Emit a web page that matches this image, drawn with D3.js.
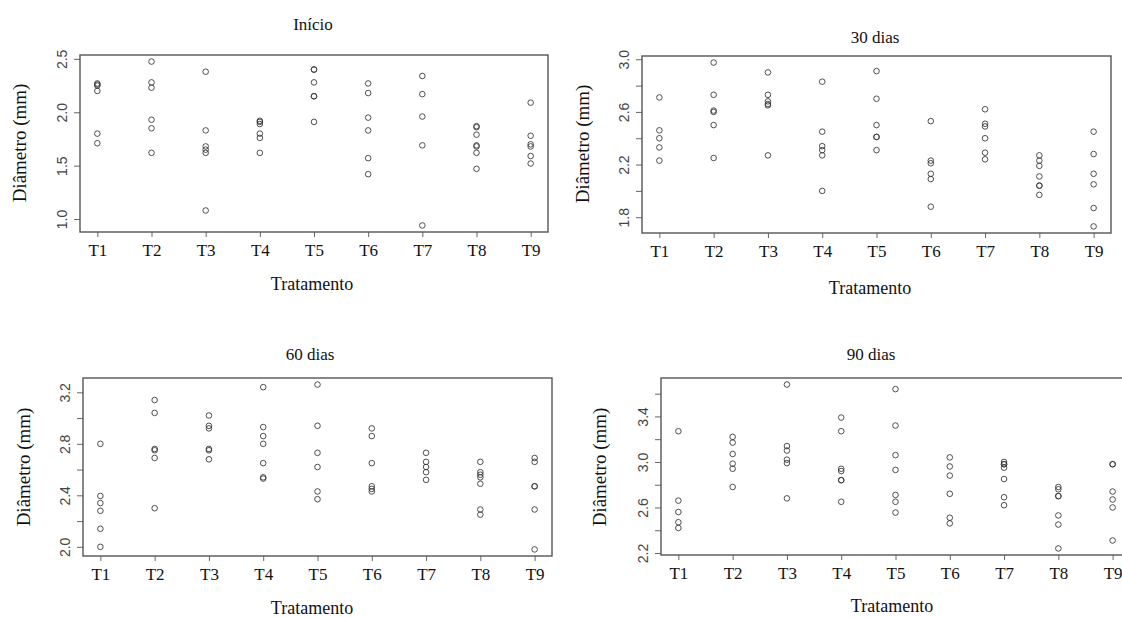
<!DOCTYPE html>
<html>
<head>
<meta charset="utf-8">
<script src="https://cdn.jsdelivr.net/npm/d3@7"></script>
<style>
  body { margin: 0; background: #fff; }
  svg text { font-family: "Liberation Serif", "Times New Roman", serif; fill: #111; }
  .ytick text { font-family: "Liberation Sans", Arial, sans-serif; fill: #444; }
</style>
</head>
<body>
<svg id="chart" width="1122" height="617"></svg>
<script>
// treatments on the x axis
var tratamentos = ["T1", "T2", "T3", "T4", "T5", "T6", "T7", "T8", "T9"];

// diameter (mm) per treatment
var inicio = [
    [2.27, 2.26, 2.25, 2.20, 1.80, 1.71],
    [2.475, 2.28, 2.23, 1.93, 1.85, 1.62],
    [2.38, 1.83, 1.68, 1.65, 1.62, 1.08],
    [1.92, 1.91, 1.89, 1.80, 1.76, 1.62],
    [2.40, 2.40, 2.28, 2.15, 2.15, 1.91],
    [2.27, 2.18, 1.95, 1.83, 1.57, 1.42],
    [2.34, 2.17, 1.96, 1.69, 0.94],
    [1.87, 1.86, 1.79, 1.69, 1.68, 1.62, 1.47],
    [2.09, 1.78, 1.70, 1.68, 1.59, 1.52]
];
var dias30 = [
    [2.71, 2.46, 2.40, 2.33, 2.23],
    [2.975, 2.73, 2.61, 2.60, 2.50, 2.25],
    [2.90, 2.73, 2.68, 2.66, 2.65, 2.27],
    [2.83, 2.45, 2.34, 2.31, 2.27, 2.00],
    [2.91, 2.70, 2.50, 2.41, 2.41, 2.31],
    [2.53, 2.23, 2.21, 2.13, 2.09, 1.88],
    [2.62, 2.51, 2.49, 2.40, 2.29, 2.24],
    [2.27, 2.23, 2.19, 2.11, 2.04, 2.04, 1.97],
    [2.45, 2.28, 2.13, 2.05, 1.87, 1.73]
];
var dias60 = [
    [2.80, 2.395, 2.34, 2.28, 2.14, 2.00],
    [3.14, 3.04, 2.76, 2.75, 2.69, 2.30],
    [3.02, 2.94, 2.92, 2.76, 2.75, 2.68],
    [3.24, 2.93, 2.86, 2.80, 2.65, 2.54, 2.53],
    [3.26, 2.94, 2.73, 2.62, 2.43, 2.37],
    [2.92, 2.86, 2.65, 2.47, 2.45, 2.43],
    [2.73, 2.66, 2.62, 2.58, 2.52],
    [2.66, 2.58, 2.56, 2.54, 2.49, 2.29, 2.25],
    [2.69, 2.66, 2.47, 2.47, 2.29, 1.98]
];
var dias90 = [
    [3.27, 2.66, 2.56, 2.47, 2.42],
    [3.22, 3.17, 3.07, 2.985, 2.94, 2.78],
    [3.68, 3.14, 3.10, 3.02, 2.99, 2.68],
    [3.39, 3.27, 2.94, 2.92, 2.84, 2.84, 2.65],
    [3.64, 3.32, 3.06, 2.93, 2.71, 2.65, 2.555],
    [3.04, 2.96, 2.88, 2.72, 2.51, 2.46],
    [3.00, 2.98, 2.98, 2.95, 2.85, 2.69, 2.62],
    [2.78, 2.76, 2.70, 2.70, 2.53, 2.45, 2.24],
    [2.98, 2.98, 2.74, 2.67, 2.60, 2.31]
];

// y ticks, and which of them carry a label
var ticksInicio = [1.0, 1.5, 2.0, 2.5];
var labelsInicio = [1.0, 1.5, 2.0, 2.5];
var ticks30 = [1.8, 2.0, 2.2, 2.4, 2.6, 2.8, 3.0];
var labels30 = [1.8, 2.2, 2.6, 3.0];
var ticks60 = [2.0, 2.2, 2.4, 2.6, 2.8, 3.0, 3.2];
var labels60 = [2.0, 2.4, 2.8, 3.2];
var ticks90 = [2.2, 2.4, 2.6, 2.8, 3.0, 3.2, 3.4, 3.6];
var labels90 = [2.2, 2.6, 3.0, 3.4];

var svg = d3.select("#chart");

function createPanel(cfg) {
    var box = cfg.box;
    var all = d3.merge(cfg.data);
    var ext = d3.extent(all);
    var pad = (ext[1] - ext[0]) * 0.04;

    var x = d3.scaleLinear()
        .domain([1 - 8 * 0.04, 9 + 8 * 0.04])
        .range([box.x0, box.x1]);
    var y = d3.scaleLinear()
        .domain([ext[0] - pad, ext[1] + pad])
        .range([box.y1, box.y0]);

    var g = svg.append("g");

    // x axis
    var xAxis = d3.axisBottom(x)
        .tickValues(d3.range(1, 10))
        .tickSize(5)
        .tickFormat(function(d) { return tratamentos[d - 1]; });
    var gx = g.append("g")
        .attr("transform", "translate(0," + box.y1 + ")")
        .call(xAxis);
    gx.select(".domain").remove();
    gx.selectAll(".tick line").attr("stroke", "#666");
    gx.selectAll(".tick text")
        .attr("y", 12)
        .attr("font-size", 17)
        .attr("fill", "#111")
        .attr("font-family", "Liberation Serif, serif");

    // y axis
    var yAxis = d3.axisLeft(y)
        .tickValues(cfg.ticks)
        .tickSize(6)
        .tickFormat(function(d) {
            return cfg.labels.indexOf(d) >= 0 ? d3.format(".1f")(d) : "";
        });
    var gy = g.append("g")
        .attr("class", "ytick")
        .attr("transform", "translate(" + box.x0 + ",0)")
        .call(yAxis);
    gy.select(".domain").remove();
    gy.selectAll(".tick line").attr("stroke", "#666");
    gy.selectAll(".tick text")
        .attr("x", null)
        .attr("dy", null)
        .attr("font-size", 14)
        .attr("text-anchor", "middle")
        .attr("transform", "translate(-13,0) rotate(-90)")
        .attr("y", 0);

    // frame
    g.append("rect")
        .attr("x", box.x0)
        .attr("y", box.y0)
        .attr("width", box.x1 - box.x0)
        .attr("height", box.y1 - box.y0)
        .attr("fill", "none")
        .attr("stroke", "#555")
        .attr("stroke-width", 1.4);

    // points
    var pts = [];
    cfg.data.forEach(function(vals, i) {
        vals.forEach(function(v) { pts.push({ t: i + 1, v: v }); });
    });
    g.append("g")
        .selectAll("circle")
        .data(pts)
        .enter()
        .append("circle")
        .attr("cx", function(d) { return x(d.t); })
        .attr("cy", function(d) { return y(d.v); })
        .attr("r", 2.8)
        .attr("fill", "none")
        .attr("stroke", "#333")
        .attr("stroke-opacity", 0.85)
        .attr("stroke-width", 1);

    // texts
    g.append("text")
        .attr("x", cfg.title.x)
        .attr("y", cfg.title.y)
        .attr("text-anchor", "middle")
        .attr("font-size", 17)
        .text(cfg.title.text);
    g.append("text")
        .attr("x", cfg.xlab.x)
        .attr("y", cfg.xlab.y)
        .attr("text-anchor", "middle")
        .attr("font-size", 18)
        .text("Tratamento");
    g.append("text")
        .attr("transform", "translate(" + cfg.ylab.x + "," + cfg.ylab.y + ") rotate(-90)")
        .attr("text-anchor", "middle")
        .attr("font-size", 19)
        .text("Diâmetro (mm)");
}

createPanel({
    data: inicio, ticks: ticksInicio, labels: labelsInicio,
    box: { x0: 80, x1: 548, y0: 55, y1: 232 },
    title: { text: "Início", x: 313, y: 30 },
    xlab: { x: 312, y: 290 },
    ylab: { x: 26, y: 143 }
});
createPanel({
    data: dias30, ticks: ticks30, labels: labels30,
    box: { x0: 642, x1: 1111, y0: 56, y1: 233 },
    title: { text: "30 dias", x: 875, y: 43 },
    xlab: { x: 870, y: 294 },
    ylab: { x: 589, y: 144 }
});
createPanel({
    data: dias60, ticks: ticks60, labels: labels60,
    box: { x0: 83, x1: 552, y0: 378, y1: 556 },
    title: { text: "60 dias", x: 310, y: 360 },
    xlab: { x: 312, y: 614 },
    ylab: { x: 30, y: 467 }
});
createPanel({
    data: dias90, ticks: ticks90, labels: labels90,
    box: { x0: 661, x1: 1130, y0: 378, y1: 555 },
    title: { text: "90 dias", x: 871, y: 360 },
    xlab: { x: 892, y: 612 },
    ylab: { x: 606, y: 467 }
});
</script>
</body>
</html>
